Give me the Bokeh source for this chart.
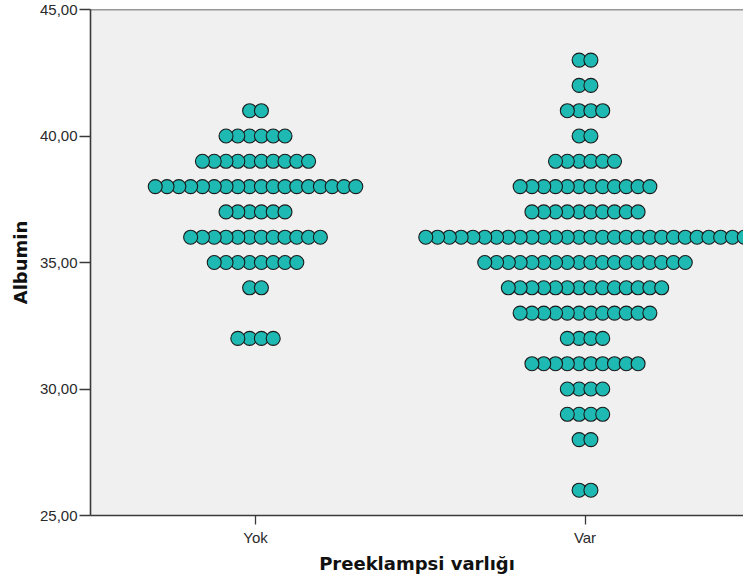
from bokeh.plotting import figure
from bokeh.models import Range1d, FixedTicker, Span, ColumnDataSource
from bokeh.embed import file_html
from bokeh.resources import INLINE

# ---- data (dot plot: one dot per case) ----
groups = ["Yok", "Var"]
yok_values = [41, 40, 39, 38, 37, 36, 35, 34, 32]
yok_counts = [2, 6, 10, 18, 6, 12, 8, 2, 4]
var_values = [43, 42, 41, 40, 39, 38, 37, 36, 35, 34, 33, 32, 31, 30, 29, 28, 26]
var_counts = [2, 2, 4, 2, 6, 12, 10, 28, 18, 14, 12, 4, 10, 4, 4, 2, 2]
y_ticks = [25, 30, 35, 40, 45]
y_tick_labels = ["25,00", "30,00", "35,00", "40,00", "45,00"]

# horizontal spacing of stacked dots, in x-axis units (layout, not data)
DOT_STEP = 0.0358

rows = []
for gi, (vals, cnts) in enumerate([(yok_values, yok_counts), (var_values, var_counts)]):
    for v, n in zip(vals, cnts):
        for k in range(n):
            off = (k - (n - 1) / 2) * DOT_STEP
            rows.append((abs(off), gi + off, v))
rows.sort(key=lambda r: r[0])  # centre first, outer dots drawn on top
src = ColumnDataSource(dict(x=[r[1] for r in rows], y=[r[2] for r in rows]))

p = figure(width=743, height=583,
           x_range=Range1d(-0.5008, 1.481), y_range=Range1d(25, 45),
           output_backend="svg", toolbar_location=None,
           min_border_left=90, min_border_right=0,
           min_border_top=9, min_border_bottom=68,
           background_fill_color="#F0F0F0", border_fill_color="white",
           outline_line_color=None)

p.xgrid.visible = False
p.ygrid.visible = False

p.scatter("x", "y", source=src, size=14, fill_color="#1DB9B2",
          line_color="#1a1a1a", line_width=1.1)

p.add_layout(Span(location=45, dimension="width", line_color="#3a3a3a", line_width=1.6))

axis_color = "#3a3a3a"
for ax in (p.xaxis[0], p.yaxis[0]):
    ax.axis_line_color = axis_color
    ax.axis_line_width = 1.6
    ax.major_tick_line_color = axis_color
    ax.major_tick_line_width = 1.3
    ax.major_tick_in = 0
    ax.minor_tick_line_color = None
    ax.major_label_text_font = "Liberation Sans"
    ax.major_label_text_font_size = "15px"
    ax.major_label_text_color = "#2a2a2a"
    ax.axis_label_text_font = "DejaVu Sans"
    ax.axis_label_text_font_style = "bold"
    ax.axis_label_text_font_size = "18px"
    ax.axis_label_text_color = "#111111"

p.yaxis.ticker = FixedTicker(ticks=y_ticks)
p.yaxis.major_label_overrides = dict(zip(y_ticks, y_tick_labels))
p.yaxis.major_tick_out = 11
p.yaxis.major_label_standoff = 2
p.yaxis.axis_label = "Albumin"
p.yaxis.axis_label_standoff = 6

p.xaxis.ticker = FixedTicker(ticks=[0, 1])
p.xaxis.major_label_overrides = {0: groups[0], 1: groups[1]}
p.xaxis.major_tick_out = 9
p.xaxis.major_label_standoff = 4
p.xaxis.axis_label = "Preeklampsi varlığı"
p.xaxis.axis_label_standoff = 4

open("out.html", "w").write(file_html(p, INLINE))
